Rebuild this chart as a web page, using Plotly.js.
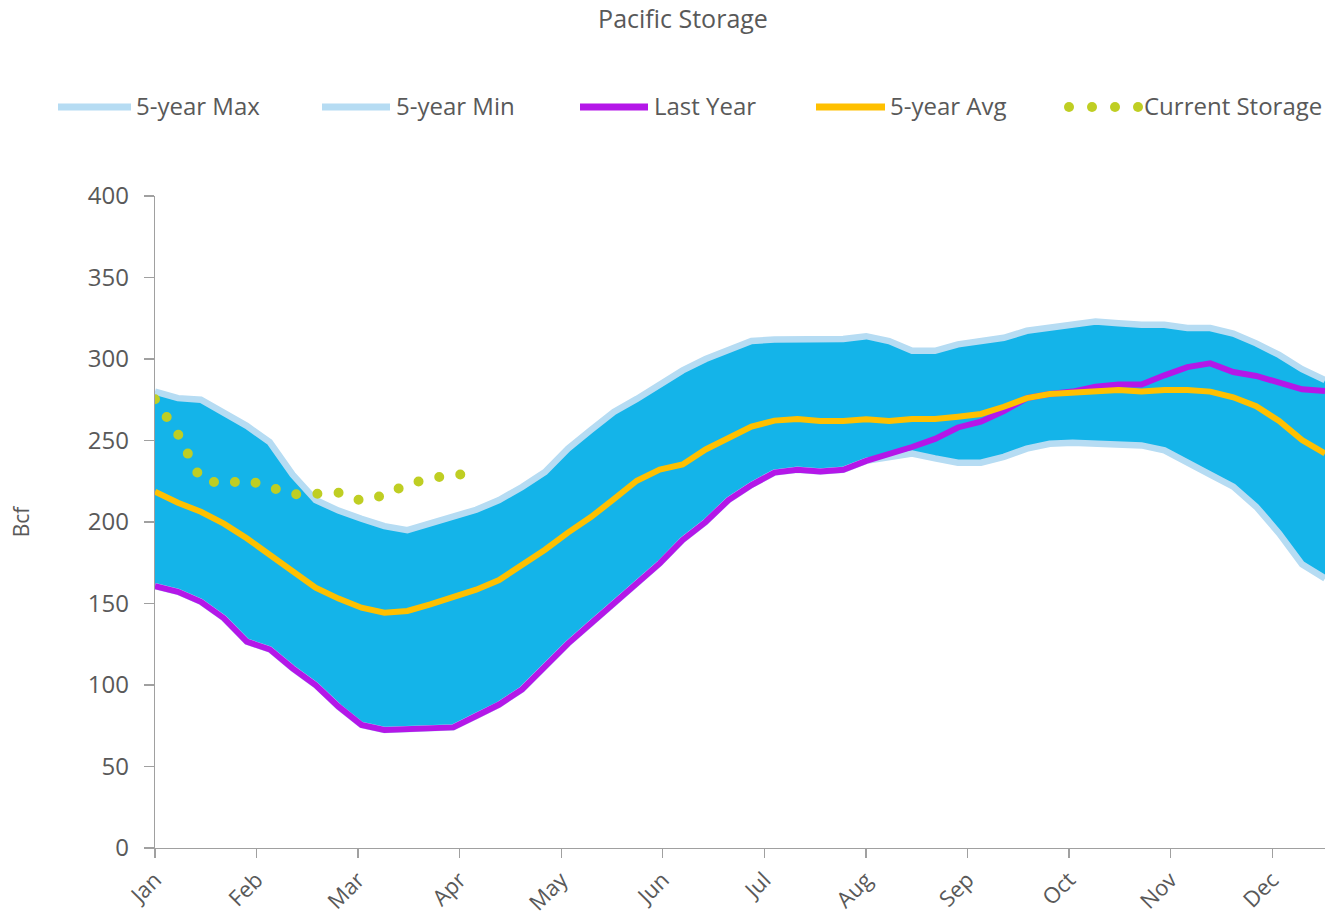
<!DOCTYPE html>
<html>
<head>
<meta charset="utf-8">
<script src="https://cdn.plot.ly/plotly-3.0.1.min.js"></script>
<style>
  html, body { margin: 0; padding: 0; background: #fff; }
  #chart { width: 1329px; height: 920px; }
</style>
</head>
<body>
<div id="chart"></div>
<script>
// ---------- Data (Bcf, weekly, week 0 = first week of Jan) ----------
const monthLabels = ["Jan","Feb","Mar","Apr","May","Jun","Jul","Aug","Sep","Oct","Nov","Dec"];

const fiveYearMax = [280, 276, 275, 267, 259, 249, 229, 213.5, 207, 202, 197.5, 195, 199, 203, 207.5,
  213.5, 221.5, 230.7, 245, 256.4, 267.5, 275.5, 284.7, 293, 300, 305.5, 311, 312, 312.3, 312.3,
  312.3, 314, 311, 305, 305, 309, 311, 313, 317.3, 319.4, 321, 323, 322, 321, 321, 319, 319,
  315.6, 309.6, 302.5, 293.7, 287];

const fiveYearMin = [160.7, 157.2, 151, 141, 126.6, 121.9, 110.2, 100, 86.7, 75.5, 72.4, 73, 73, 74, 81,
  88, 97.3, 111, 125.4, 137.7, 150, 161.3, 174.6, 189, 200, 213.5, 222.7, 230.3, 232, 231,
  232, 237.5, 240, 242, 239, 236.4, 236.4, 240, 245, 248, 248.6, 248, 247, 247, 244, 236, 229,
  221.7, 209.4, 193, 174, 165.4];

const lastYear = [160.7, 157.2, 151, 141, 126.6, 121.9, 110.2, 100, 86.7, 75.5, 72.4, 73, 73, 74, 81,
  88, 97.3, 111, 125.4, 137.7, 150, 161.3, 174.6, 189, 200, 213.5, 222.7, 230.3, 232, 231,
  232, 237.5, 241.5, 246, 251, 258, 261.5, 268, 276, 278.5, 280, 283, 284.4, 284.4, 290, 295, 297.3,
  292, 289.6, 285.5, 281.4, 280.4];

const fiveYearAvg = [218.6, 211.8, 206.3, 199, 190, 180, 169.5, 159.7, 153, 147.4, 144.4, 145.4, 149.5, 153.6, 158.5,
  164.4, 173.5, 183, 193.5, 203, 214, 225.3, 232.2, 235.3, 244.5, 251.2, 258.5, 262.2, 263.2, 262,
  262, 263, 262, 263.2, 263.2, 264.6, 266.3, 270.7, 276, 278.5, 279.3, 281, 281, 280, 281, 281, 280,
  276.5, 271, 262, 250.3, 242];

const currentStorage = [275.3, 254, 226, 223.5, 225.7, 221.5, 217, 217.3, 218, 213, 216.5, 223, 226.8, 228.8, 230];

const weeks = fiveYearMax.map((_, i) => i);
const currentWeeks = currentStorage.map((_, i) => i);

// ---------- Styling ----------
const COL = {
  fill: "#14B4E9",
  band: "#B6DCF3",
  last: "#B417E8",
  avg: "#FFC000",
  cur: "#BFCE23",
  text: "#595959",
  axis: "#A0A0A0"
};
const FONT = "'Open Sans', 'Noto Sans', sans-serif";
const W = 1329, H = 920;
const M = { l: 155, r: 4, t: 196, b: 72 };
const WEEKS_PER_MONTH = 4.427;

const pw = W - M.l - M.r, ph = H - M.t - M.b;
const px = x => (x - M.l) / pw;       // pixel -> paper x
const py = y => (H - M.b - y) / ph;   // pixel -> paper y

const traces = [
  { x: weeks, y: fiveYearMin, type: "scatter", mode: "lines", line: { width: 0 },
    hoverinfo: "skip", showlegend: false },
  { x: weeks, y: fiveYearMax, type: "scatter", mode: "lines", fill: "tonexty",
    fillcolor: COL.fill, line: { width: 0 }, hoverinfo: "skip", showlegend: false },
  { x: weeks, y: fiveYearMax, name: "5-year Max", type: "scatter", mode: "lines",
    line: { color: COL.band, width: 6.5 } },
  { x: weeks, y: fiveYearMin, name: "5-year Min", type: "scatter", mode: "lines",
    line: { color: COL.band, width: 6.5 } },
  { x: weeks, y: lastYear, name: "Last Year", type: "scatter", mode: "lines",
    line: { color: COL.last, width: 6 } },
  { x: weeks, y: fiveYearAvg, name: "5-year Avg", type: "scatter", mode: "lines",
    line: { color: COL.avg, width: 6 } },
  { x: currentWeeks, y: currentStorage, name: "Current Storage", type: "scatter", mode: "lines",
    line: { color: COL.cur, width: 10, dash: "0px,21.2px" } }
];

// custom legend (Excel-like long samples)
const legendY = 106;
const legendItems = [
  { name: "5-year Max", color: COL.band, x0: 58, x1: 131, tx: 134, kind: "line" },
  { name: "5-year Min", color: COL.band, x0: 322, x1: 390, tx: 394, kind: "line" },
  { name: "Last Year", color: COL.last, x0: 580, x1: 648, tx: 652, kind: "line" },
  { name: "5-year Avg", color: COL.avg, x0: 816, x1: 885, tx: 888, kind: "line" },
  { name: "Current Storage", color: COL.cur, dots: [1069, 1092, 1115, 1138], tx: 1142, kind: "dots" }
];
const shapes = [];
const annotations = [];
legendItems.forEach(it => {
  if (it.kind === "line") {
    shapes.push({ type: "line", xref: "paper", yref: "paper",
      x0: px(it.x0), x1: px(it.x1), y0: py(legendY + 1), y1: py(legendY + 1),
      line: { color: it.color, width: 7 } });
  } else {
    it.dots.forEach(d => shapes.push({ type: "circle", xref: "paper", yref: "paper",
      x0: px(d - 5), x1: px(d + 5), y0: py(legendY + 6), y1: py(legendY - 4),
      fillcolor: it.color, line: { width: 0 } }));
  }
  annotations.push({ xref: "paper", yref: "paper", x: px(it.tx), y: py(legendY),
    xanchor: "left", yanchor: "middle", showarrow: false, text: it.name,
    font: { family: FONT, size: 24, color: COL.text } });
});

const layout = {
  width: W, height: H,
  margin: M,
  paper_bgcolor: "#fff", plot_bgcolor: "#fff",
  showlegend: false,
  font: { family: FONT, color: COL.text },
  title: { text: "Pacific Storage", xref: "container", yref: "container",
    x: 683 / W, y: 1 - 19 / H, xanchor: "center", yanchor: "middle",
    font: { family: FONT, size: 25, color: COL.text } },
  xaxis: {
    range: [0, weeks.length - 1],
    tickmode: "array",
    tickvals: monthLabels.map((_, i) => i * WEEKS_PER_MONTH),
    ticktext: monthLabels,
    tickangle: -45,
    ticks: "outside", ticklen: 9, tickcolor: COL.axis, tickwidth: 1.3,
    showline: true, linecolor: COL.axis, linewidth: 1.3,
    showgrid: false, zeroline: false,
    tickfont: { family: FONT, size: 22, color: COL.text }
  },
  yaxis: {
    range: [0, 400], dtick: 50, tick0: 0,
    ticks: "outside", ticklen: 10, tickcolor: COL.axis, tickwidth: 1.3,
    showline: true, linecolor: COL.axis, linewidth: 1.3,
    showgrid: false, zeroline: false,
    ticklabelstandoff: 10,
    tickfont: { family: FONT, size: 24, color: COL.text },
    title: { text: "Bcf", standoff: 52, font: { family: FONT, size: 21, color: COL.text } }
  },
  shapes: shapes,
  annotations: annotations
};

Plotly.newPlot("chart", traces, layout, { displayModeBar: false, staticPlot: true }).then(gd => {
  // round caps turn the zero-length dashes into dots
  const tr = gd.querySelectorAll(".scatterlayer .trace");
  const last = tr[tr.length - 1];
  if (last) {
    last.querySelectorAll("path.js-line").forEach(p => {
      p.style.setProperty("stroke-linecap", "round");
    });
  }
});
</script>
</body>
</html>
